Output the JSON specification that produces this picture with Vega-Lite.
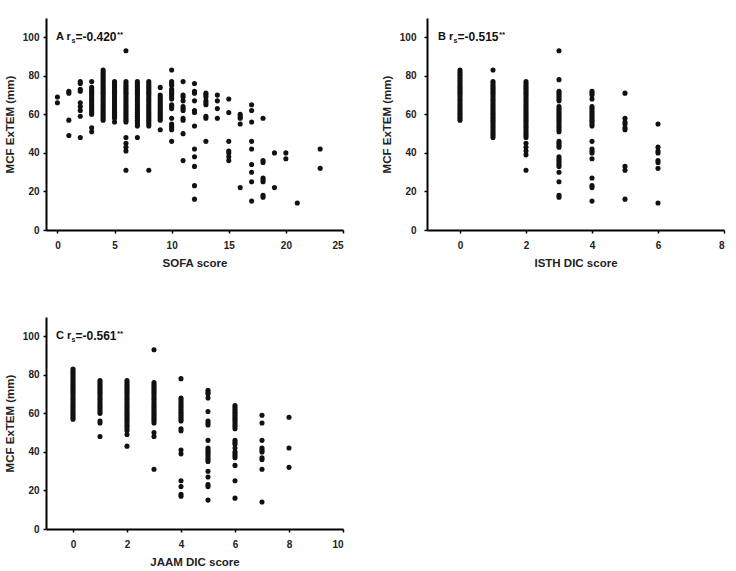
{
  "$schema": "https://vega.github.io/schema/vega-lite/v6.json",
  "background": "white",
  "padding": {"left": 4, "top": 18, "right": 5, "bottom": 5},
  "config": {
    "view": {"stroke": null},
    "axis": {
      "grid": false,
      "domainColor": "#000",
      "domainWidth": 2,
      "tickColor": "#000",
      "tickWidth": 1.5,
      "tickSize": 3,
      "labelFont": "Liberation Sans",
      "labelFontSize": 10,
      "labelFontWeight": "bold",
      "labelColor": "#222",
      "titleFont": "Liberation Sans",
      "titleFontSize": 11.5,
      "titleFontWeight": "bold",
      "titleColor": "#222"
    },
    "axisX": {"labelPadding": 7.5, "titlePadding": 6.5},
    "axisY": {"labelPadding": 4, "titlePadding": 7},
    "text": {"font": "Liberation Sans", "fontWeight": "bold", "color": "#111", "baseline": "middle", "align": "left"}
  },
  "datasets": {
    "A": [
      {"x": 0, "ys": [69, 66]},
      {"x": 1, "ys": [72, 71, 57, 49]},
      {"x": 2, "ys": [77, 76, 73, 72, 66, 64, 62, 59, 48]},
      {"x": 3, "ys": [77, 74, 73, 72, 71, 70, 69, 68, 67, 66, 65, 64, 63, 62, 61, 60, 53, 51]},
      {"x": 4, "ys": [83, 82, 81, 80, 79, 78, 77, 76, 75, 74, 73, 72, 71, 70, 69, 68, 67, 66, 65, 64, 63, 62, 61, 60, 59, 58, 57]},
      {"x": 5, "ys": [77, 76, 75, 74, 73, 72, 71, 70, 69, 68, 67, 66, 65, 64, 63, 62, 61, 60, 59, 58, 56]},
      {"x": 6, "ys": [93, 77, 76, 75, 74, 73, 72, 71, 70, 69, 68, 67, 66, 65, 64, 63, 62, 61, 60, 59, 58, 57, 56, 48, 45, 43, 41, 31]},
      {"x": 7, "ys": [77, 76, 75, 74, 73, 72, 71, 70, 69, 68, 67, 66, 65, 64, 63, 62, 61, 60, 59, 58, 57, 56, 55, 54, 48]},
      {"x": 8, "ys": [77, 76, 75, 74, 73, 72, 71, 70, 69, 68, 67, 66, 65, 64, 63, 62, 61, 60, 59, 58, 57, 56, 55, 54, 31]},
      {"x": 9, "ys": [74, 70, 69, 68, 67, 66, 65, 64, 63, 62, 61, 60, 59, 58, 57, 52]},
      {"x": 10, "ys": [83, 77, 76, 75, 73, 72, 71, 70, 69, 68, 65, 64, 63, 58, 55, 54, 53, 52, 46]},
      {"x": 11, "ys": [77, 70, 69, 67, 64, 63, 62, 58, 57, 50, 36]},
      {"x": 12, "ys": [76, 72, 71, 67, 62, 61, 54, 42, 38, 33, 23, 16]},
      {"x": 13, "ys": [71, 70, 69, 67, 66, 65, 59, 58, 46]},
      {"x": 14, "ys": [70, 67, 63, 58]},
      {"x": 15, "ys": [68, 61, 46, 41, 40, 38, 36]},
      {"x": 16, "ys": [60, 59, 58, 55, 22]},
      {"x": 17, "ys": [65, 62, 56, 46, 42, 34, 30, 25, 15]},
      {"x": 18, "ys": [58, 36, 35, 27, 26, 25, 18, 17]},
      {"x": 19, "ys": [40, 22]},
      {"x": 20, "ys": [40, 37]},
      {"x": 21, "ys": [14]},
      {"x": 23, "ys": [42, 32]}
    ],
    "B": [
      {"x": 0, "ys": [83, 82, 81, 80, 79, 78, 77, 76, 75, 74, 73, 72, 71, 70, 69, 68, 67, 66, 65, 64, 63, 62, 61, 60, 59, 58, 57]},
      {"x": 1, "ys": [83, 77, 76, 75, 74, 73, 72, 71, 70, 69, 68, 67, 66, 65, 64, 63, 62, 61, 60, 59, 58, 57, 56, 55, 54, 53, 52, 51, 50, 49, 48]},
      {"x": 2, "ys": [77, 76, 75, 74, 73, 72, 71, 70, 69, 68, 67, 66, 65, 64, 63, 62, 61, 60, 59, 58, 57, 56, 55, 54, 53, 52, 51, 50, 49, 48, 45, 43, 41, 39, 31]},
      {"x": 3, "ys": [93, 78, 72, 71, 70, 69, 68, 67, 64, 63, 62, 61, 60, 59, 58, 57, 56, 55, 54, 53, 52, 51, 46, 45, 44, 43, 38, 37, 36, 35, 34, 33, 30, 25, 18, 17]},
      {"x": 4, "ys": [72, 71, 70, 68, 64, 63, 62, 61, 60, 59, 58, 57, 56, 55, 54, 46, 42, 41, 40, 37, 27, 23, 22, 15]},
      {"x": 5, "ys": [71, 58, 56, 55, 53, 52, 33, 31, 16]},
      {"x": 6, "ys": [55, 43, 41, 40, 36, 35, 32, 14]}
    ],
    "C": [
      {"x": 0, "ys": [83, 82, 81, 80, 79, 78, 77, 76, 75, 74, 73, 72, 71, 70, 69, 68, 67, 66, 65, 64, 63, 62, 61, 60, 59, 58, 57]},
      {"x": 1, "ys": [77, 76, 75, 74, 73, 72, 71, 70, 69, 68, 67, 66, 65, 64, 63, 62, 61, 60, 56, 55, 48]},
      {"x": 2, "ys": [77, 76, 75, 74, 73, 72, 71, 70, 69, 68, 67, 66, 65, 64, 63, 62, 61, 60, 59, 58, 57, 56, 55, 54, 53, 52, 51, 49, 43]},
      {"x": 3, "ys": [93, 76, 75, 74, 73, 72, 71, 70, 69, 68, 67, 66, 65, 64, 63, 62, 61, 60, 59, 58, 57, 56, 55, 50, 48, 31]},
      {"x": 4, "ys": [78, 68, 67, 66, 65, 64, 63, 62, 61, 60, 59, 58, 57, 56, 52, 51, 41, 39, 25, 22, 18, 17]},
      {"x": 5, "ys": [72, 71, 70, 68, 61, 56, 55, 54, 46, 42, 41, 40, 39, 38, 37, 36, 35, 30, 27, 23, 22, 15]},
      {"x": 6, "ys": [64, 63, 62, 61, 60, 59, 58, 57, 56, 55, 54, 53, 52, 46, 45, 44, 42, 40, 39, 38, 37, 33, 25, 16]},
      {"x": 7, "ys": [59, 55, 46, 42, 41, 40, 37, 36, 31, 14]},
      {"x": 8, "ys": [58, 42, 32]}
    ]
  },
  "spacing": 48,
  "vconcat": [
    {
      "spacing": 37,
      "hconcat": [
        {
          "width": 297,
          "height": 212,
          "layer": [
            {
              "data": {"name": "A"},
              "transform": [{"flatten": ["ys"]}],
              "mark": {"type": "point", "filled": true, "shape": "circle", "size": 26, "color": "#111", "opacity": 1},
              "encoding": {
                "x": {"field": "x", "type": "quantitative", "scale": {"domain": [-1, 25], "nice": false, "zero": false}, "axis": {"values": [0, 5, 10, 15, 20, 25], "title": "SOFA score"}},
                "y": {"field": "ys", "type": "quantitative", "scale": {"domain": [0, 110], "nice": false}, "axis": {"values": [0, 20, 40, 60, 80, 100], "title": "MCF ExTEM (mm)"}}
              }
            },
            {
              "data": {"values": [{"lead": "A r", "sub": "s", "main": "=-0.420", "star": "**"}]},
              "layer": [
                {"mark": {"type": "text", "fontSize": 11, "dx": 10}, "encoding": {"x": {"datum": -1, "type": "quantitative"}, "y": {"datum": 100, "type": "quantitative"}, "text": {"field": "lead"}}},
                {"mark": {"type": "text", "fontSize": 7, "dx": 25.5, "dy": 4}, "encoding": {"x": {"datum": -1, "type": "quantitative"}, "y": {"datum": 100, "type": "quantitative"}, "text": {"field": "sub"}}},
                {"mark": {"type": "text", "fontSize": 12, "dx": 29.5}, "encoding": {"x": {"datum": -1, "type": "quantitative"}, "y": {"datum": 100, "type": "quantitative"}, "text": {"field": "main"}}},
                {"mark": {"type": "text", "fontSize": 8, "dx": 71, "dy": -2}, "encoding": {"x": {"datum": -1, "type": "quantitative"}, "y": {"datum": 100, "type": "quantitative"}, "text": {"field": "star"}}}
              ]
            }
          ]
        },
        {
          "width": 297,
          "height": 212,
          "layer": [
            {
              "data": {"name": "B"},
              "transform": [{"flatten": ["ys"]}],
              "mark": {"type": "point", "filled": true, "shape": "circle", "size": 26, "color": "#111", "opacity": 1},
              "encoding": {
                "x": {"field": "x", "type": "quantitative", "scale": {"domain": [-1, 8], "nice": false, "zero": false}, "axis": {"values": [0, 2, 4, 6, 8], "title": "ISTH DIC score"}},
                "y": {"field": "ys", "type": "quantitative", "scale": {"domain": [0, 110], "nice": false}, "axis": {"values": [0, 20, 40, 60, 80, 100], "title": "MCF ExTEM (mm)", "labelPadding": 8}}
              }
            },
            {
              "data": {"values": [{"lead": "B r", "sub": "s", "main": "=-0.515", "star": "**"}]},
              "layer": [
                {"mark": {"type": "text", "fontSize": 11, "dx": 11}, "encoding": {"x": {"datum": -1, "type": "quantitative"}, "y": {"datum": 100, "type": "quantitative"}, "text": {"field": "lead"}}},
                {"mark": {"type": "text", "fontSize": 7, "dx": 26.5, "dy": 4}, "encoding": {"x": {"datum": -1, "type": "quantitative"}, "y": {"datum": 100, "type": "quantitative"}, "text": {"field": "sub"}}},
                {"mark": {"type": "text", "fontSize": 12, "dx": 30.5}, "encoding": {"x": {"datum": -1, "type": "quantitative"}, "y": {"datum": 100, "type": "quantitative"}, "text": {"field": "main"}}},
                {"mark": {"type": "text", "fontSize": 8, "dx": 72, "dy": -2}, "encoding": {"x": {"datum": -1, "type": "quantitative"}, "y": {"datum": 100, "type": "quantitative"}, "text": {"field": "star"}}}
              ]
            }
          ]
        }
      ]
    },
    {
      "width": 297,
      "height": 212,
      "layer": [
        {
          "data": {"name": "C"},
          "transform": [{"flatten": ["ys"]}],
          "mark": {"type": "point", "filled": true, "shape": "circle", "size": 26, "color": "#111", "opacity": 1},
          "encoding": {
            "x": {"field": "x", "type": "quantitative", "scale": {"domain": [-1, 10], "nice": false, "zero": false}, "axis": {"values": [0, 2, 4, 6, 8, 10], "title": "JAAM DIC score"}},
            "y": {"field": "ys", "type": "quantitative", "scale": {"domain": [0, 110], "nice": false}, "axis": {"values": [0, 20, 40, 60, 80, 100], "title": "MCF ExTEM (mm)"}}
          }
        },
        {
          "data": {"values": [{"lead": "C r", "sub": "s", "main": "=-0.561", "star": "**"}]},
          "layer": [
            {"mark": {"type": "text", "fontSize": 11, "dx": 10}, "encoding": {"x": {"datum": -1, "type": "quantitative"}, "y": {"datum": 100, "type": "quantitative"}, "text": {"field": "lead"}}},
            {"mark": {"type": "text", "fontSize": 7, "dx": 25.5, "dy": 4}, "encoding": {"x": {"datum": -1, "type": "quantitative"}, "y": {"datum": 100, "type": "quantitative"}, "text": {"field": "sub"}}},
            {"mark": {"type": "text", "fontSize": 12, "dx": 29.5}, "encoding": {"x": {"datum": -1, "type": "quantitative"}, "y": {"datum": 100, "type": "quantitative"}, "text": {"field": "main"}}},
            {"mark": {"type": "text", "fontSize": 8, "dx": 71, "dy": -2}, "encoding": {"x": {"datum": -1, "type": "quantitative"}, "y": {"datum": 100, "type": "quantitative"}, "text": {"field": "star"}}}
          ]
        }
      ]
    }
  ]
}
